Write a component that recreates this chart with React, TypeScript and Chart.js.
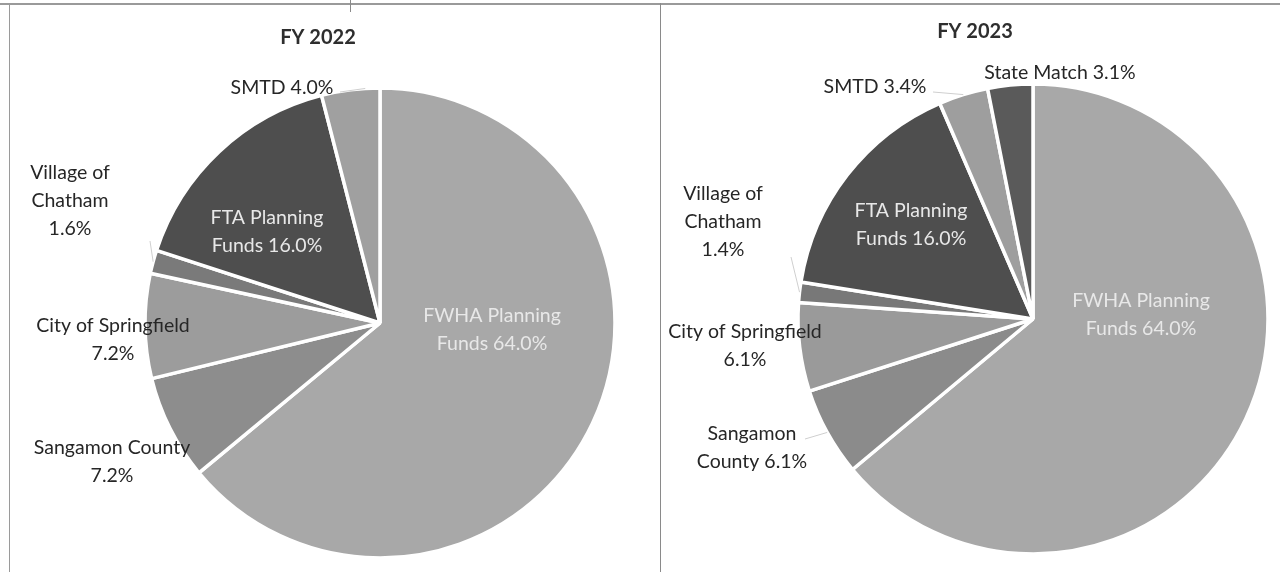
import { useEffect, useRef } from "react";
import { Chart, registerables } from "chart.js";

Chart.register(...registerables);

// ---------- data ----------
const categories2022 = [
  "FWHA Planning Funds",
  "Sangamon County",
  "City of Springfield",
  "Village of Chatham",
  "FTA Planning Funds",
  "SMTD",
];
const values2022 = [64.0, 7.2, 7.2, 1.6, 16.0, 4.0];
const lines2022 = [
  ["FWHA Planning", "Funds {v}"],
  ["Sangamon County", "{v}"],
  ["City of Springfield", "{v}"],
  ["Village of", "Chatham", "{v}"],
  ["FTA Planning", "Funds {v}"],
  ["SMTD {v}"],
];

const categories2023 = [
  "FWHA Planning Funds",
  "Sangamon County",
  "City of Springfield",
  "Village of Chatham",
  "FTA Planning Funds",
  "SMTD",
  "State Match",
];
const values2023 = [64.0, 6.1, 6.1, 1.4, 16.0, 3.4, 3.1];
const lines2023 = [
  ["FWHA Planning", "Funds {v}"],
  ["Sangamon", "County {v}"],
  ["City of Springfield", "{v}"],
  ["Village of", "Chatham", "{v}"],
  ["FTA Planning", "Funds {v}"],
  ["SMTD {v}"],
  ["State Match {v}"],
];

// ---------- styles ----------
const sliceColors2022 = ["#a8a8a8", "#8d8d8d", "#9c9c9c", "#7a7a7a", "#4e4e4e", "#a0a0a0"];
const sliceColors2023 = ["#a8a8a8", "#8b8b8b", "#9a9a9a", "#787878", "#4e4e4e", "#9e9e9e", "#5a5a5a"];

const FONT = "Lato, 'Open Sans', 'DejaVu Sans', sans-serif";
const DARK = "#262626";
const LIGHT = "#e8e8e8";

type LabelSpec = { dx: number; dy: number; color: string; leader?: [number, number, number] };

// label offsets relative to the pie centre (px); leader = [label-end dx, label-end dy, position along slice 0..1]
const labelLayout2022: LabelSpec[] = [
  { dx: 112, dy: 7, color: LIGHT },
  { dx: -268, dy: 139, color: DARK },
  { dx: -267, dy: 17, color: DARK },
  { dx: -310, dy: -122, color: DARK, leader: [-230, -82, 0.5] },
  { dx: -113, dy: -91, color: LIGHT },
  { dx: -98, dy: -235, color: DARK, leader: [-40, -231, 0.75] },
];
const labelLayout2023: LabelSpec[] = [
  { dx: 108, dy: -4, color: LIGHT },
  { dx: -281, dy: 129, color: DARK, leader: [-228, 120, 0.5] },
  { dx: -288, dy: 27, color: DARK },
  { dx: -310, dy: -97, color: DARK, leader: [-242, -62, 0.5] },
  { dx: -122, dy: -94, color: LIGHT },
  { dx: -158, dy: -232, color: DARK, leader: [-100, -227, 0.5] },
  { dx: 27, dy: -246, color: DARK },
];

const sliceLabelPlugin = {
  id: "sliceLabels",
  afterDatasetsDraw(chart: any, _args: any, opts: any) {
    const ctx: CanvasRenderingContext2D = chart.ctx;
    const meta = chart.getDatasetMeta(0);
    const data = chart.data.datasets[0].data as number[];
    const specs: LabelSpec[] = opts.specs;
    const lines: string[][] = opts.lines;
    ctx.save();
    meta.data.forEach((arc: any, i: number) => {
      const p = arc.getProps(["x", "y", "startAngle", "endAngle", "outerRadius"], true);
      const spec = specs[i];
      const lx = p.x + spec.dx;
      const ly = p.y + spec.dy;
      if (spec.leader) {
        const [ex, ey, t] = spec.leader;
        const a = p.startAngle + (p.endAngle - p.startAngle) * t;
        ctx.strokeStyle = "#cfcfcf";
        ctx.lineWidth = 1;
        ctx.beginPath();
        ctx.moveTo(p.x + ex, p.y + ey);
        ctx.lineTo(p.x + Math.cos(a) * p.outerRadius, p.y + Math.sin(a) * p.outerRadius);
        ctx.stroke();
      }
      ctx.fillStyle = spec.color;
      ctx.font = `19.5px ${FONT}`;
      ctx.textAlign = "center";
      ctx.textBaseline = "middle";
      const txt = lines[i].map((s) => s.replace("{v}", data[i].toFixed(1) + "%"));
      const lh = 28;
      txt.forEach((t, k) => {
        ctx.fillText(t, lx, ly + (k - (txt.length - 1) / 2) * lh);
      });
    });
    // title
    ctx.fillStyle = "#2e2e2e";
    ctx.font = `bold 20px ${FONT}`;
    ctx.textAlign = "center";
    ctx.textBaseline = "middle";
    ctx.fillText(opts.title, opts.titleX, opts.titleY);
    ctx.restore();
  },
};

function PieChart(props: {
  title: string;
  titleX: number;
  titleY: number;
  categories: string[];
  values: number[];
  colors: string[];
  lines: string[][];
  specs: LabelSpec[];
  padding: { left: number; right: number; top: number; bottom: number };
  radius: number;
  width: number;
  left: number;
}) {
  const ref = useRef<HTMLCanvasElement | null>(null);
  useEffect(() => {
    if (!ref.current) return;
    const chart = new Chart(ref.current, {
      type: "pie",
      data: {
        labels: props.categories,
        datasets: [
          {
            data: props.values,
            backgroundColor: props.colors,
            borderColor: "#ffffff",
            borderWidth: 3.5,
            radius: props.radius,
          } as any,
        ],
      },
      options: {
        responsive: false,
        animation: false,
        events: [],
        layout: { padding: props.padding },
        plugins: {
          legend: { display: false },
          tooltip: { enabled: false },
          title: { display: false },
          sliceLabels: {
            specs: props.specs,
            lines: props.lines,
            title: props.title,
            titleX: props.titleX,
            titleY: props.titleY,
          },
        } as any,
      },
      plugins: [sliceLabelPlugin as any],
    });
    return () => chart.destroy();
  }, []);
  return (
    <canvas
      ref={ref}
      width={props.width}
      height={572}
      style={{ position: "absolute", left: props.left, top: 0, width: props.width, height: 572 }}
    />
  );
}

export default function App() {
  return (
    <div
      style={{
        position: "fixed",
        left: 0,
        top: 0,
        width: 1280,
        height: 572,
        background: "#ffffff",
        overflow: "hidden",
      }}
    >
      {/* table borders of the scanned page */}
      <div style={{ position: "absolute", left: 0, top: 3, width: 1280, height: 2, background: "#9a9a9a" }} />
      <div style={{ position: "absolute", left: 9, top: 3, width: 1, height: 569, background: "#9a9a9a" }} />
      <div style={{ position: "absolute", left: 660, top: 3, width: 1, height: 569, background: "#8a8a8a" }} />
      <div style={{ position: "absolute", left: 350, top: 0, width: 1, height: 12, background: "#8a8a8a" }} />
      <PieChart
        title="FY 2022"
        titleX={308}
        titleY={38}
        categories={categories2022}
        values={values2022}
        colors={sliceColors2022}
        lines={lines2022}
        specs={labelLayout2022}
        padding={{ left: 136, right: 46, top: 89, bottom: 15 }}
        radius={235}
        width={650}
        left={10}
      />
      <PieChart
        title="FY 2023"
        titleX={314}
        titleY={32}
        categories={categories2023}
        values={values2023}
        colors={sliceColors2023}
        lines={lines2023}
        specs={labelLayout2023}
        padding={{ left: 137, right: 12, top: 84, bottom: 18 }}
        radius={235}
        width={619}
        left={661}
      />
    </div>
  );
}
